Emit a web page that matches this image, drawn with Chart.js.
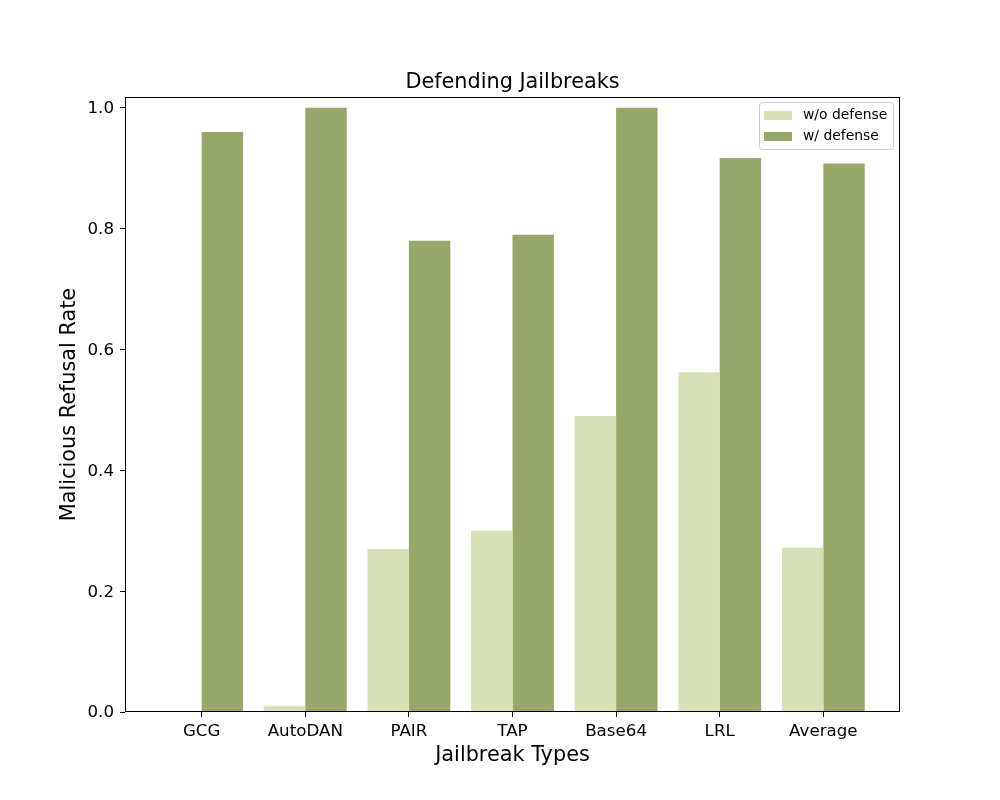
<!DOCTYPE html>
<html>
<head>
<meta charset="utf-8">
<script src="https://cdn.jsdelivr.net/npm/chart.js@4"></script>
<style>
html,body{margin:0;padding:0;background:#fff;}
#wrap{width:1000px;height:800px;}
</style>
</head>
<body>
<div id="wrap"><canvas id="c" width="1000" height="800"></canvas></div>
<script>
const categories = ["GCG", "AutoDAN", "PAIR", "TAP", "Base64", "LRL", "Average"];
const withoutDefense = [0.0, 0.01, 0.27, 0.30, 0.49, 0.5625, 0.272];
const withDefense = [0.96, 1.0, 0.78, 0.79, 1.0, 0.917, 0.908];
const yTicks = [0.0, 0.2, 0.4, 0.6, 0.8, 1.0];
const seriesLabels = ["w/o defense", "w/ defense"];
const seriesColors = ["#d6e2b6", "#97a86a"];
const chartTitle = "Defending Jailbreaks";

const FONT = "'DejaVu Sans', sans-serif";

const framePlugin = {
  id: 'frame',
  afterDatasetsDraw(chart) {
    const {ctx, chartArea: a} = chart;
    ctx.save();
    ctx.strokeStyle = '#000';
    ctx.lineWidth = 1;
    ctx.strokeRect(Math.round(a.left) + 0.5, Math.round(a.top) + 0.5, Math.round(a.right - a.left) - 1, Math.round(a.bottom - a.top) - 1);
    ctx.font = '20.8px ' + FONT;
    ctx.fillStyle = '#000';
    ctx.textAlign = 'center';
    ctx.textBaseline = 'alphabetic';
    ctx.fillText(chartTitle, (a.left + a.right) / 2, a.top - 9);
    ctx.restore();
  }
};

const legendPlugin = {
  id: 'cornerLegend',
  afterDraw(chart) {
    const {ctx} = chart;
    const x = 759, y = 102, w = 134, h = 47, r = 3;
    ctx.save();
    ctx.beginPath();
    ctx.roundRect(x + 0.5, y + 0.5, w, h, r);
    ctx.fillStyle = 'rgba(255,255,255,0.8)';
    ctx.fill();
    ctx.strokeStyle = '#cccccc';
    ctx.lineWidth = 1;
    ctx.stroke();
    ctx.font = '13.9px ' + FONT;
    ctx.textBaseline = 'middle';
    ctx.textAlign = 'left';
    chart.data.datasets.forEach((ds, i) => {
      const ry = 115 + i * 21;
      ctx.fillStyle = ds.backgroundColor;
      ctx.fillRect(764, ry - 4, 28, 9);
      ctx.fillStyle = '#000';
      ctx.fillText(ds.label, 803, ry);
    });
    ctx.restore();
  }
};

new Chart(document.getElementById('c'), {
  type: 'bar',
  data: {
    datasets: [
      {
        label: seriesLabels[0],
        data: withoutDefense.map((v, i) => ({x: i, y: v})),
        backgroundColor: seriesColors[0],
        borderWidth: 0
      },
      {
        label: seriesLabels[1],
        data: withDefense.map((v, i) => ({x: i, y: v})),
        backgroundColor: seriesColors[1],
        borderWidth: 0
      }
    ]
  },
  options: {
    responsive: false,
    animation: false,
    devicePixelRatio: 1,
    layout: {padding: {left: 0, right: 100, top: 97, bottom: 0}},
    datasets: {bar: {barPercentage: 1.0, categoryPercentage: 0.8, grouped: true}},
    plugins: {
      legend: {display: false},
      tooltip: {enabled: false},
      title: {display: false}
    },
    scales: {
      x: {
        type: 'linear',
        min: -0.74,
        max: 6.74,
        offset: false,
        afterBuildTicks(scale) { scale.ticks = categories.map((c, i) => ({value: i})); },
        afterFit(scale) { scale.height = 88; },
        ticks: {
          callback: (v) => categories[v],
          color: '#000',
          font: {family: FONT, size: 16.7},
          padding: 5,
          maxRotation: 0,
          autoSkip: false
        },
        grid: {offset: false, drawOnChartArea: false, drawTicks: true, tickLength: 5, tickColor: '#000', tickWidth: 1},
        border: {display: false},
        title: {
          display: true,
          text: 'Jailbreak Types',
          color: '#000',
          font: {family: FONT, size: 20.8},
          padding: {top: 0, bottom: 32}
        }
      },
      y: {
        type: 'linear',
        min: 0,
        max: 1.018,
        afterBuildTicks(scale) { scale.ticks = yTicks.map(v => ({value: v})); },
        afterFit(scale) { scale.width = 125; },
        ticks: {
          callback: (v) => v.toFixed(1),
          color: '#000',
          font: {family: FONT, size: 16.7},
          padding: 6,
          labelOffset: 1
        },
        grid: {drawOnChartArea: false, drawTicks: true, tickLength: 5, tickColor: '#000', tickWidth: 1},
        border: {display: false},
        title: {
          display: true,
          text: 'Malicious Refusal Rate',
          color: '#000',
          font: {family: FONT, size: 20.8},
          padding: {top: 57, bottom: 0}
        }
      }
    }
  },
  plugins: [framePlugin, legendPlugin]
});
</script>
</body>
</html>
